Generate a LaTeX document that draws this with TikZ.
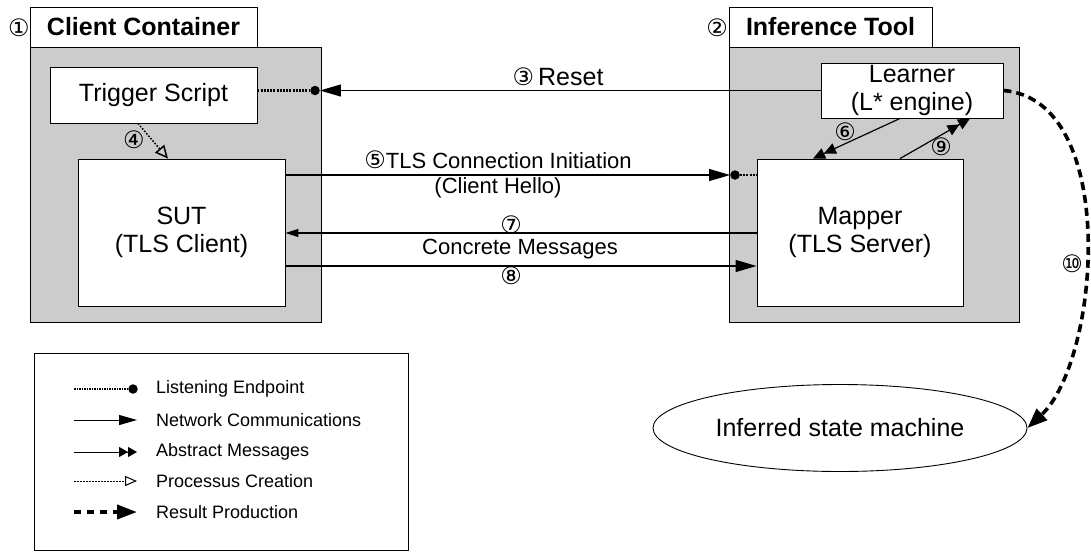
\documentclass[tikz,border=0pt]{standalone}
\usepackage{fontspec}
\setmainfont{Liberation Sans}
\newfontfamily\cnumfont{DejaVu Sans}
\usetikzlibrary{arrows.meta,shapes.geometric,calc}
\definecolor{boxgray}{HTML}{CCCCCC}
\newcommand{\cn}[1]{{\cnumfont\fontsize{24}{24}\selectfont #1}}
\begin{document}
\begin{tikzpicture}[x=1pt,y=-1pt,
  container/.style={draw, fill=boxgray, line width=0.9pt, inner sep=0pt},
  titlebox/.style={draw, fill=white, line width=0.9pt, inner sep=0pt, font=\fontsize{25}{28}\selectfont\bfseries},
  whitebox/.style={draw, fill=white, line width=0.9pt, inner sep=0pt, align=center, font=\fontsize{25}{28}\selectfont},
  dotnode/.style={circle, fill=black, inner sep=0pt, minimum size=9.5pt},
  net/.style={line width=1.2pt, -{Triangle[length=21pt,width=12pt]}},
  netsmall/.style={line width=1.2pt, -{Triangle[length=13pt,width=8pt]}},
  listen/.style={line width=2.2pt, dash pattern=on 2pt off 1.2pt},
  abstract/.style={line width=1.2pt, -{Triangle[length=12pt,width=11pt] Triangle[length=12pt,width=11pt]}},
  create/.style={line width=1.5pt, dash pattern=on 1.6pt off 1.6pt, -{Triangle[open,length=13pt,width=12pt]}},
  result/.style={line width=3.6pt, dash pattern=on 8pt off 5pt, -{Triangle[length=20pt,width=15pt]}},
  lbl/.style={inner sep=0pt, font=\fontsize{22}{25}\selectfont, align=center},
  cnum/.style={inner sep=0pt, font=\cnumfont\fontsize{24}{24}\selectfont},
  legtext/.style={anchor=west, inner sep=0pt, font=\fontsize{18}{20}\selectfont}
]
\useasboundingbox (0,0) rectangle (1091,552);

% containers
\node[container, minimum width=291pt, minimum height=275pt] (cc) at (175.5,184.5) {};
\node[titlebox, minimum width=227pt, minimum height=40pt] (cctitle) at (143.5,27) {Client Container};
\node[cnum] (n1) at (19,28) {①};
\node[container, minimum width=290pt, minimum height=275pt] (it) at (874,184.5) {};
\node[titlebox, minimum width=203pt, minimum height=40pt] (ittitle) at (830.5,27) {Inference Tool};
\node[cnum] (n2) at (717,28) {②};

% inner boxes
\node[whitebox, minimum width=207pt, minimum height=56pt] (trigger) at (153.5,95) {Trigger Script};
\node[whitebox, minimum width=207pt, minimum height=147pt] (sut) at (181.5,232.5) {SUT\\(TLS Client)};
\node[whitebox, minimum width=182pt, minimum height=55pt] (learner) at (912,90.5) {Learner\\(L* engine)};
\node[whitebox, minimum width=206pt, minimum height=147pt] (mapper) at (860,232.5) {Mapper\\(TLS Server)};
\node[draw, ellipse, line width=0.9pt, inner sep=0pt, minimum width=374pt, minimum height=87pt, font=\fontsize{25}{28}\selectfont] (ism) at (840,428) {Inferred state machine};

% reset
\node[dotnode] (rdot) at (315,90.5) {};
\draw[net] (learner.west) -- (rdot.east);
\draw[listen] (trigger.east |- rdot) -- (rdot);
\node[inner sep=0pt, font=\fontsize{25}{28}\selectfont] (l3) at (558,77) {\cn{③}\,Reset};

% creation
\draw[create] ([xshift=-15.5pt]trigger.south) -- ([xshift=-13.5pt]sut.north);
\node[cnum] (n4) at (134,140) {④};

% TLS connection
\coordinate (y5) at (0,175);
\coordinate (y7) at (0,233);
\coordinate (y8) at (0,266);
\node[dotnode] (d5) at (735,175) {};
\draw[net] (sut.east |- y5) -- (d5.west);
\draw[listen] (d5) -- (mapper.west |- y5);
\node[lbl] (l5) at (498,174) {\cn{⑤}TLS Connection Initiation\\(Client Hello)};

\draw[netsmall] (mapper.west |- y7) -- (sut.east |- y7);
\node[cnum] (n7) at (511,224.5) {⑦};
\node[lbl] (l7) at (520,249) {Concrete Messages};
\draw[net] (sut.east |- y8) -- (mapper.west |- y8);
\node[cnum] (n8) at (511,275.5) {⑧};

% abstract
\draw[abstract] ([xshift=-12pt]learner.south) -- ([xshift=-47pt]mapper.north);
\node[cnum] (n6) at (845,132) {⑥};
\draw[abstract] ([xshift=40pt]mapper.north) -- ([xshift=58pt]learner.south);
\node[cnum] (n9) at (941,147) {⑨};

% result
\draw[result] (learner.east) .. controls (1120,100) and (1100,360) .. (ism.east);
\node[cnum] (n10) at (1072,264) {⑩};

% legend
\node[draw, line width=0.9pt, minimum width=374pt, minimum height=197pt, inner sep=0pt] (legend) at (221,451.5) {};
\coordinate (a1) at (74,389); \node[dotnode] (e1) at (133,389) {};
\draw[line width=2pt, dash pattern=on 1.5pt off 1pt] (a1) -- (e1);
\node[legtext] (t1) at (156,389) {Listening Endpoint};
\coordinate (a2) at (74,420); \coordinate (e2) at (137,420);
\draw[line width=1pt, -{Triangle[length=18pt,width=10pt]}] (a2) -- (e2);
\node[legtext] (t2) at (156,420) {Network Communications};
\coordinate (a3) at (74,452); \coordinate (e3) at (137,452);
\draw[line width=1pt, -{Triangle[length=9pt,width=10pt] Triangle[length=9pt,width=10pt]}] (a3) -- (e3);
\node[legtext] (t3) at (156,452) {Abstract Messages};
\coordinate (a4) at (74,481); \coordinate (e4) at (137,481);
\draw[line width=1pt, dash pattern=on 1.5pt off 1.5pt, -{Triangle[open,length=12pt,width=10pt]}] (a4) -- (e4);
\node[legtext] (t4) at (156,481) {Processus Creation};
\coordinate (a5) at (74,512); \coordinate (e5) at (137,512);
\draw[line width=3.6pt, dash pattern=on 7pt off 6pt, -{Triangle[length=20pt,width=14pt]}] (a5) -- (e5);
\node[legtext] (t5) at (156,512) {Result Production};
\end{tikzpicture}
\end{document}
